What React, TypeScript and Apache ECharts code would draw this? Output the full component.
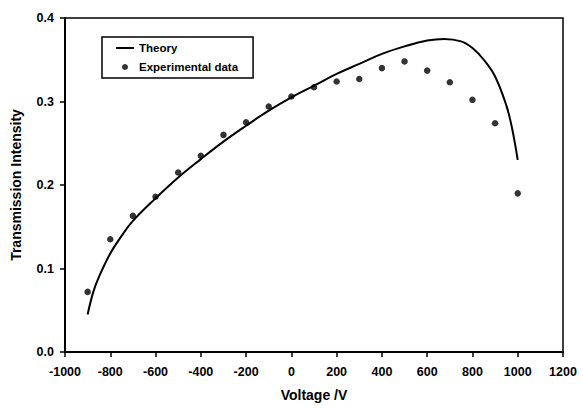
import React, { useEffect, useRef } from "react";
import * as echarts from "echarts";

const theoryV = [-900, -875, -850, -800, -750, -700, -600, -500, -400, -300, -200, -100, 0, 100, 200, 300, 400, 500, 600, 675, 750, 800, 850, 900, 950, 975, 1000];
const theoryI = [0.045, 0.072, 0.09, 0.118, 0.139, 0.157, 0.184, 0.209, 0.231, 0.252, 0.271, 0.289, 0.305, 0.319, 0.333, 0.345, 0.357, 0.366, 0.373, 0.375, 0.372, 0.364, 0.35, 0.33, 0.295, 0.268, 0.23];

const expV = [-900, -800, -700, -600, -500, -400, -300, -200, -100, 0, 100, 200, 300, 400, 500, 600, 700, 800, 900, 1000];
const expI = [0.072, 0.135, 0.163, 0.186, 0.215, 0.235, 0.26, 0.275, 0.294, 0.306, 0.317, 0.324, 0.327, 0.34, 0.348, 0.337, 0.323, 0.302, 0.274, 0.19];

const FONT = "'Liberation Sans', Arial, sans-serif";

export default function App() {
  const ref = useRef<HTMLDivElement>(null);
  useEffect(() => {
    if (!ref.current) return;
    const chart = echarts.init(ref.current, undefined, { renderer: "svg" });
    chart.setOption({
      animation: false,
      backgroundColor: "#fff",
      grid: {
        left: 65,
        right: 20,
        top: 18,
        bottom: 56,
        show: true,
        borderColor: "#000",
        borderWidth: 1.5,
      },
      legend: {
        left: 102,
        top: 37,
        orient: "vertical",
        borderColor: "#000",
        borderWidth: 1.5,
        padding: [5, 15, 5, 13],
        itemWidth: 18,
        itemHeight: 6,
        itemGap: 7,
        textStyle: { fontFamily: FONT, fontWeight: "bold", fontSize: 11.5, color: "#000" },
        data: [
          {
            name: "Theory",
            itemStyle: { color: "rgba(0,0,0,0)", borderWidth: 0 },
            lineStyle: { color: "#000", width: 2 },
          },
          { name: "Experimental data", icon: "circle" },
        ],
      },
      xAxis: {
        type: "value",
        min: -1000,
        max: 1200,
        interval: 200,
        name: "Voltage /V",
        nameLocation: "middle",
        nameGap: 36,
        nameTextStyle: { fontFamily: FONT, fontWeight: "bold", fontSize: 14, color: "#000" },
        axisLine: { show: true, onZero: false, lineStyle: { color: "#000", width: 2 } },
        axisTick: { show: true, length: 5, lineStyle: { color: "#000", width: 1.5 } },
        axisLabel: {
          margin: 13,
          fontFamily: FONT,
          fontWeight: "bold",
          fontSize: 12.5,
          color: "#000",
          formatter: (v: number) => String(v),
        },
        splitLine: { show: false },
      },
      yAxis: {
        type: "value",
        min: 0,
        max: 0.4,
        interval: 0.1,
        name: "Transmission Intensity",
        nameLocation: "middle",
        nameGap: 42,
        nameTextStyle: { fontFamily: FONT, fontWeight: "bold", fontSize: 14, color: "#000" },
        axisLine: { show: true, onZero: false, lineStyle: { color: "#000", width: 2 } },
        axisTick: { show: true, length: 5, lineStyle: { color: "#000", width: 1.5 } },
        axisLabel: {
          margin: 11,
          fontFamily: FONT,
          fontWeight: "bold",
          fontSize: 12.5,
          color: "#000",
          formatter: (v: number) => v.toFixed(1),
        },
        splitLine: { show: false },
      },
      series: [
        {
          name: "Theory",
          type: "line",
          smooth: 0.4,
          symbol: "none",
          lineStyle: { color: "#000", width: 2 },
          itemStyle: { color: "#000" },
          data: theoryV.map((v, i) => [v, theoryI[i]]),
        },
        {
          name: "Experimental data",
          type: "scatter",
          symbol: "circle",
          symbolSize: 6.5,
          itemStyle: { color: "#000" },
          data: expV.map((v, i) => [v, expI[i]]),
        },
      ],
    });
    return () => chart.dispose();
  }, []);
  return (
    <div
      ref={ref}
      style={{ position: "absolute", left: 0, top: 0, width: 583, height: 408 }}
    />
  );
}
